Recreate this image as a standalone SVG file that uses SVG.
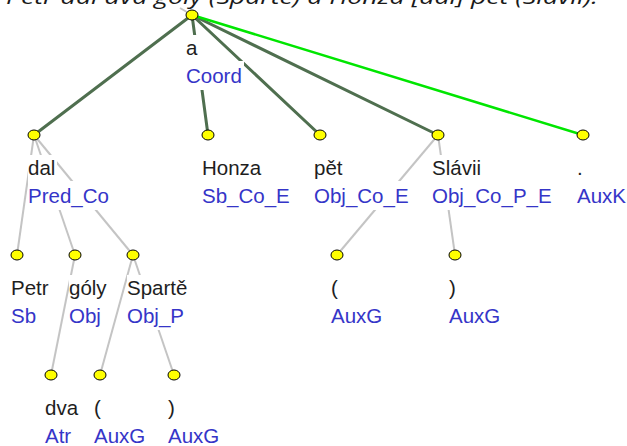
<svg xmlns="http://www.w3.org/2000/svg" width="627" height="446" viewBox="0 0 627 446">
<style>
.e-main{stroke:#4f6f4f;stroke-width:3;stroke-linecap:round}
.e-aux{stroke:#00e600;stroke-width:2.5;stroke-linecap:round}
.e-sub{stroke:#c4c4c4;stroke-width:2}
.nd{fill:#ffff00;stroke:#000;stroke-width:1}
.bg{fill:#fff}
.w{font-family:"Liberation Sans",Arial,sans-serif;font-size:20.5px;fill:#1e1e1e}
.t{font-family:"Liberation Sans",Arial,sans-serif;font-size:20.5px;fill:#3535c8}
.title{font-family:"Open Sans","DejaVu Sans",sans-serif;font-size:20px;font-style:italic;fill:#1a1a1a}
</style>
<rect width="627" height="446" fill="#fff"/>
<text class="title" x="6" y="4" textLength="592" lengthAdjust="spacingAndGlyphs">Petr dal dva góly (Spartě) a Honza [dal] pět (Slávii).</text>
<g id="edges" fill="none">
<line class="e-sub" x1="192" y1="15" x2="180" y2="8"/>
<line class="e-main" x1="192" y1="15" x2="34" y2="135"/>
<line class="e-main" x1="192" y1="15" x2="208" y2="135"/>
<line class="e-main" x1="192" y1="15" x2="320" y2="135"/>
<line class="e-main" x1="192" y1="15" x2="438" y2="135"/>
<line class="e-aux" x1="192" y1="15" x2="583" y2="135"/>
<line class="e-sub" x1="34" y1="135" x2="17" y2="255"/>
<line class="e-sub" x1="34" y1="135" x2="75" y2="255"/>
<line class="e-sub" x1="34" y1="135" x2="133" y2="255"/>
<line class="e-sub" x1="438" y1="135" x2="337" y2="255"/>
<line class="e-sub" x1="438" y1="135" x2="455" y2="255"/>
<line class="e-sub" x1="75" y1="255" x2="51" y2="375"/>
<line class="e-sub" x1="133" y1="255" x2="100" y2="375"/>
<line class="e-sub" x1="133" y1="255" x2="174" y2="375"/>
</g>
<g id="n-a">
<rect class="bg" x="186" y="35" width="14" height="26"/><rect class="bg" x="186" y="61" width="58" height="29"/>
<text class="w" x="186" y="55">a</text><text class="t" x="186" y="83">Coord</text>
<ellipse class="nd" cx="192" cy="15" rx="6" ry="5"/>
</g>
<g id="n-dal">
<rect class="bg" x="28" y="155" width="29" height="26"/><rect class="bg" x="28" y="181" width="82" height="29"/>
<text class="w" x="28" y="175">dal</text><text class="t" x="28" y="203">Pred_Co</text>
<ellipse class="nd" cx="34" cy="135" rx="6" ry="5"/>
</g>
<g id="n-honza">
<rect class="bg" x="202" y="155" width="60" height="26"/><rect class="bg" x="202" y="181" width="89" height="29"/>
<text class="w" x="202" y="175">Honza</text><text class="t" x="202" y="203">Sb_Co_E</text>
<ellipse class="nd" cx="208" cy="135" rx="6" ry="5"/>
</g>
<g id="n-pet">
<rect class="bg" x="314" y="155" width="30" height="26"/><rect class="bg" x="314" y="181" width="96" height="29"/>
<text class="w" x="314" y="175">pět</text><text class="t" x="314" y="203">Obj_Co_E</text>
<ellipse class="nd" cx="320" cy="135" rx="6" ry="5"/>
</g>
<g id="n-slavii">
<rect class="bg" x="432" y="155" width="50" height="26"/><rect class="bg" x="432" y="181" width="121" height="29"/>
<text class="w" x="432" y="175">Slávii</text><text class="t" x="432" y="203">Obj_Co_P_E</text>
<ellipse class="nd" cx="438" cy="135" rx="6" ry="5"/>
</g>
<g id="n-dot">
<rect class="bg" x="577" y="155" width="7" height="26"/><rect class="bg" x="577" y="181" width="50" height="29"/>
<text class="w" x="577" y="175">.</text><text class="t" x="577" y="203">AuxK</text>
<ellipse class="nd" cx="583" cy="135" rx="6" ry="5"/>
</g>
<g id="n-petr">
<rect class="bg" x="11" y="275" width="39" height="26"/><rect class="bg" x="11" y="301" width="26" height="29"/>
<text class="w" x="11" y="295">Petr</text><text class="t" x="11" y="323">Sb</text>
<ellipse class="nd" cx="17" cy="255" rx="6" ry="5"/>
</g>
<g id="n-goly">
<rect class="bg" x="69" y="275" width="39" height="26"/><rect class="bg" x="69" y="301" width="33" height="29"/>
<text class="w" x="69" y="295">góly</text><text class="t" x="69" y="323">Obj</text>
<ellipse class="nd" cx="75" cy="255" rx="6" ry="5"/>
</g>
<g id="n-sparte">
<rect class="bg" x="127" y="275" width="61" height="26"/><rect class="bg" x="127" y="301" width="58" height="29"/>
<text class="w" x="127" y="295">Spartě</text><text class="t" x="127" y="323">Obj_P</text>
<ellipse class="nd" cx="133" cy="255" rx="6" ry="5"/>
</g>
<g id="n-lpar2">
<rect class="bg" x="331" y="275" width="8" height="26"/><rect class="bg" x="331" y="301" width="52" height="29"/>
<text class="w" x="331" y="295">(</text><text class="t" x="331" y="323">AuxG</text>
<ellipse class="nd" cx="337" cy="255" rx="6" ry="5"/>
</g>
<g id="n-rpar2">
<rect class="bg" x="449" y="275" width="8" height="26"/><rect class="bg" x="449" y="301" width="52" height="29"/>
<text class="w" x="449" y="295">)</text><text class="t" x="449" y="323">AuxG</text>
<ellipse class="nd" cx="455" cy="255" rx="6" ry="5"/>
</g>
<g id="n-dva">
<rect class="bg" x="45" y="395" width="34" height="26"/><rect class="bg" x="45" y="421" width="27" height="25"/>
<text class="w" x="45" y="415">dva</text><text class="t" x="45" y="443">Atr</text>
<ellipse class="nd" cx="51" cy="375" rx="6" ry="5"/>
</g>
<g id="n-lpar1">
<rect class="bg" x="94" y="395" width="8" height="26"/><rect class="bg" x="94" y="421" width="52" height="25"/>
<text class="w" x="94" y="415">(</text><text class="t" x="94" y="443">AuxG</text>
<ellipse class="nd" cx="100" cy="375" rx="6" ry="5"/>
</g>
<g id="n-rpar1">
<rect class="bg" x="168" y="395" width="8" height="26"/><rect class="bg" x="168" y="421" width="52" height="25"/>
<text class="w" x="168" y="415">)</text><text class="t" x="168" y="443">AuxG</text>
<ellipse class="nd" cx="174" cy="375" rx="6" ry="5"/>
</g>
</svg>
